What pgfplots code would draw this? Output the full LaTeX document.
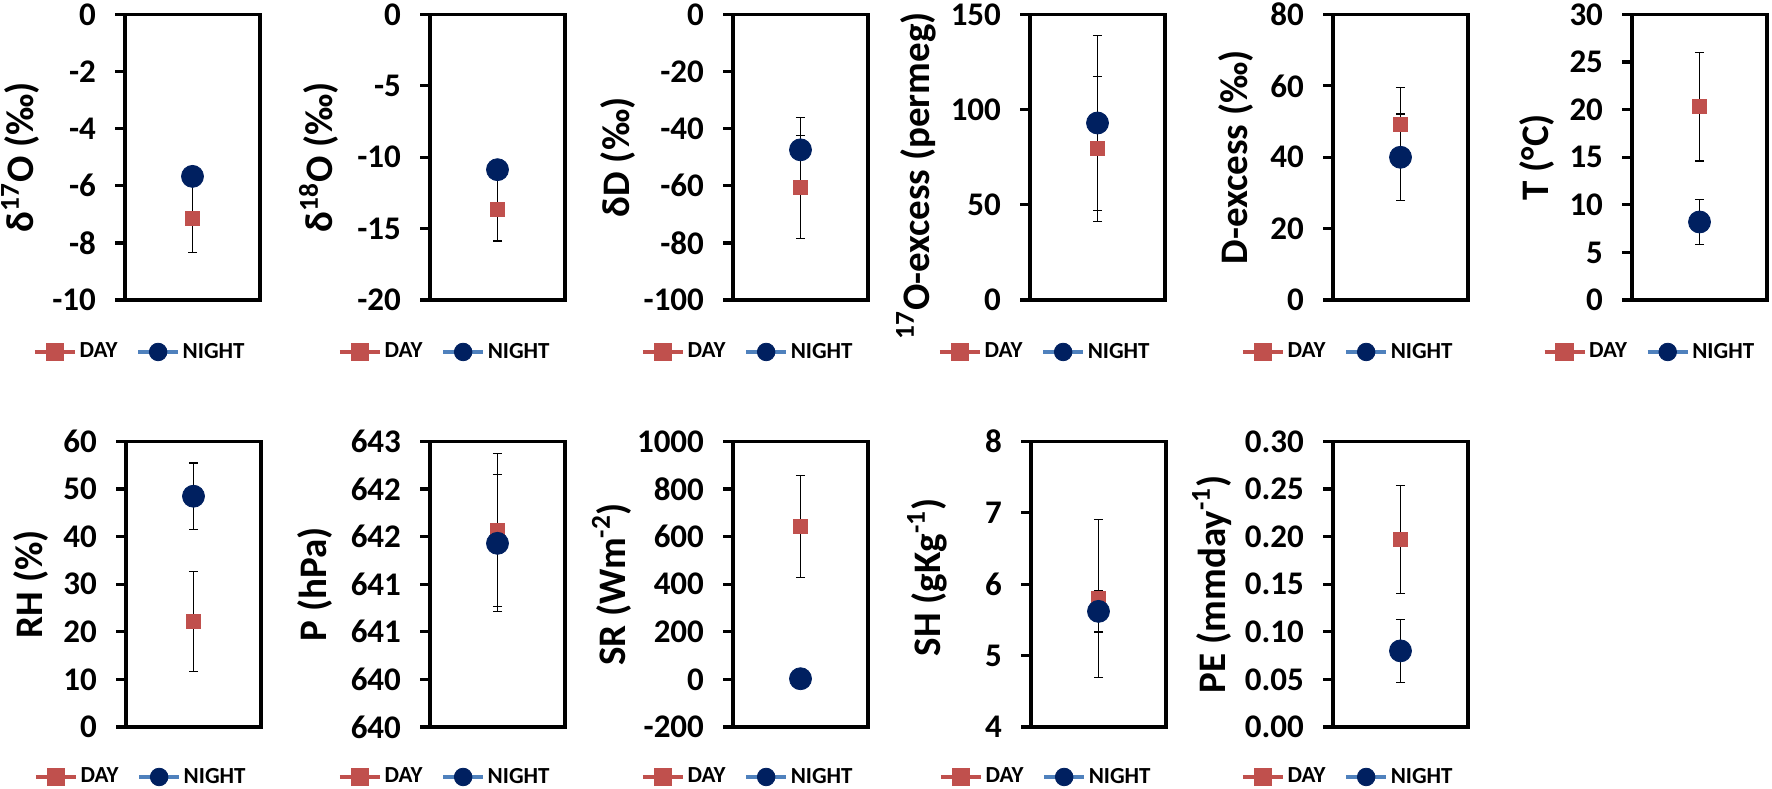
\documentclass[border=0pt]{standalone}
\usepackage{pgfplots}
\pgfplotsset{compat=1.18}
\usepackage{fontspec}
\setmainfont{Carlito}
\definecolor{dayred}{HTML}{C0504D}
\definecolor{navy}{HTML}{002060}
\definecolor{nightline}{HTML}{4F81BD}
\pgfplotsset{
  panel/.style={
    width=67.5pt, height=142.75pt, scale only axis,
    xmin=-1, xmax=1, xtick=\empty,
    ytick pos=left, tick align=outside, major tick length=5pt,
    axis line style={line width=1.6pt},
    every tick/.append style={line width=1.6pt, black},
    /pgf/number format/assume math mode=true,
    /pgf/number format/1000 sep={},
    yticklabel style={font=\fontsize{16.5}{16.5}\selectfont\bfseries, xshift=-6pt},
    ylabel style={font=\fontsize{19.5}{19.5}\selectfont\bfseries, anchor=base},
    legend columns=2,
    legend style={draw=none, fill=none, font=\fontsize{11.5}{11.5}\selectfont\bfseries,
      anchor=east, inner sep=0pt,
      nodes={inner xsep=1.5pt},
      /tikz/every even column/.append style={column sep=8pt}},
    legend image code/.code={
      \draw[mark repeat=2,mark phase=2,#1] plot coordinates {(0pt,0pt) (10pt,0pt) (20pt,0pt)};},
    clip=false,
  },
  errs/.style={error bars/.cd, y dir=both, y explicit,
    error bar style={black, line width=0.6pt},
    error mark options={black, rotate=90, mark size=2.3pt, line width=0.6pt}},
  day/.style={color=dayred, line width=1.6pt, mark=square*, mark size=3.5pt,
    mark options={fill=dayred, draw=dayred, line width=0.4pt}, errs},
  night/.style={color=nightline, line width=1.6pt, mark=*, mark size=5.5pt,
    mark options={fill=navy, draw=navy, line width=0.4pt}, errs},
  legend image post style={mark size=4.4pt},
}
\begin{document}
\begin{tikzpicture}
\path[use as bounding box] (0,0) rectangle (886pt,-394pt);
% ---------- top row ----------
\begin{axis}[panel, at={(62.5pt,-150pt)}, anchor=south west,
  ymin=-10, ymax=0, ytick={-10,-8,...,0},
  ylabel={δ\textsuperscript{17}O (‰)},
  ylabel style={at={(axis description cs:-0.675,0.5)}},
  legend style={at={(axis description cs:0.911,-0.182)}}]
\addplot[day] coordinates {(0,-7.14) +- (0,1.2)};
\addplot[night] coordinates {(0,-5.67) +- (0,0.25)};
\legend{DAY,NIGHT}
\end{axis}
\begin{axis}[panel, at={(215pt,-150pt)}, anchor=south west,
  ymin=-20, ymax=0, ytick={-20,-15,...,0},
  ylabel={δ\textsuperscript{18}O (‰)},
  ylabel style={at={(axis description cs:-0.719,0.5)}},
  legend style={at={(axis description cs:0.911,-0.182)}}]
\addplot[day] coordinates {(0,-13.64) +- (0,2.23)};
\addplot[night] coordinates {(0,-10.87) +- (0,0.5)};
\legend{DAY,NIGHT}
\end{axis}
\begin{axis}[panel, at={(366.5pt,-150pt)}, anchor=south west,
  ymin=-100, ymax=0, ytick={-100,-80,...,0},
  ylabel={δD (‰)},
  ylabel style={at={(axis description cs:-0.770,0.5)}},
  legend style={at={(axis description cs:0.911,-0.182)}}]
\addplot[day] coordinates {(0,-60.4) +- (0,18)};
\addplot[night] coordinates {(0,-47.4) +- (0,11.3)};
\legend{DAY,NIGHT}
\end{axis}
\begin{axis}[panel, at={(515pt,-150pt)}, anchor=south west,
  ymin=0, ymax=150, ytick={0,50,100,150},
  ylabel={\textsuperscript{17}O-excess (permeg)},
  ylabel style={at={(axis description cs:-0.748,0.435)}},
  legend style={at={(axis description cs:0.911,-0.182)}}]
\addplot[day] coordinates {(0,79.5) +- (0,38.1)};
\addplot[night] coordinates {(0,93.0) +- (0,46)};
\legend{DAY,NIGHT}
\end{axis}
\begin{axis}[panel, at={(666.5pt,-150pt)}, anchor=south west,
  ymin=0, ymax=80, ytick={0,20,...,80},
  ylabel={D-excess (‰)},
  ylabel style={at={(axis description cs:-0.637,0.5)}},
  legend style={at={(axis description cs:0.911,-0.182)}}]
\addplot[day] coordinates {(0,49.1) +- (0,10.5)};
\addplot[night] coordinates {(0,40.0) +- (0,12.1)};
\legend{DAY,NIGHT}
\end{axis}
\begin{axis}[panel, at={(816pt,-150pt)}, anchor=south west,
  ymin=0, ymax=30, ytick={0,5,...,30},
  ylabel={T (°C)},
  ylabel style={at={(axis description cs:-0.615,0.5)}},
  legend style={at={(axis description cs:0.93,-0.182)}}]
\addplot[day] coordinates {(0,20.3) +- (0,5.7)};
\addplot[night] coordinates {(0,8.2) +- (0,2.35)};
\legend{DAY,NIGHT}
\end{axis}
% ---------- bottom row ----------
\begin{axis}[panel, at={(63pt,-363.5pt)}, anchor=south west,
  ymin=0, ymax=60, ytick={0,10,...,60},
  ylabel={RH (\%)},
  ylabel style={at={(axis description cs:-0.615,0.5)}},
  legend style={at={(axis description cs:0.911,-0.175)}}]
\addplot[day] coordinates {(0,22.2) +- (0,10.5)};
\addplot[night] coordinates {(0,48.5) +- (0,7.0)};
\legend{DAY,NIGHT}
\end{axis}
\begin{axis}[panel, at={(215pt,-363.5pt)}, anchor=south west,
  ymin=640, ymax=643, ytick={640,640.5,641,641.5,642,642.5,643},
  yticklabels={640,640,641,641,642,642,643},
  ylabel={P (hPa)},
  ylabel style={at={(axis description cs:-0.763,0.5)}},
  legend style={at={(axis description cs:0.911,-0.175)}}]
\addplot[day] coordinates {(0,642.07) +- (0,0.80)};
\addplot[night] coordinates {(0,641.93) +- (0,0.72)};
\legend{DAY,NIGHT}
\end{axis}
\begin{axis}[panel, at={(366.5pt,-363.5pt)}, anchor=south west,
  ymin=-200, ymax=1000, ytick={-200,0,...,1000},
  ylabel={SR (Wm\textsuperscript{-2})},
  ylabel style={at={(axis description cs:-0.800,0.5)}},
  legend style={at={(axis description cs:0.911,-0.175)}}]
\addplot[day] coordinates {(0,643) +- (0,213)};
\addplot[night] coordinates {(0,3) +- (0,2)};
\legend{DAY,NIGHT}
\end{axis}
\begin{axis}[panel, at={(515.5pt,-363.5pt)}, anchor=south west,
  ymin=4, ymax=8, ytick={4,5,6,7,8},
  ylabel={SH (gKg\textsuperscript{-1})},
  ylabel style={at={(axis description cs:-0.674,0.524)}},
  legend style={at={(axis description cs:0.911,-0.175)}}]
\addplot[day] coordinates {(0,5.80) +- (0,1.11)};
\addplot[night] coordinates {(0,5.62) +- (0,0.29)};
\legend{DAY,NIGHT}
\end{axis}
\begin{axis}[panel, at={(666.5pt,-363.5pt)}, anchor=south west,
  ymin=0, ymax=0.3, ytick={0,0.05,0.1,0.15,0.2,0.25,0.3},
  yticklabels={0.00,0.05,0.10,0.15,0.20,0.25,0.30},
  ylabel={PE (mmday\textsuperscript{-1})},
  ylabel style={at={(axis description cs:-0.800,0.5)}},
  legend style={at={(axis description cs:0.911,-0.175)}}]
\addplot[day] coordinates {(0,0.197) +- (0,0.057)};
\addplot[night] coordinates {(0,0.080) +- (0,0.033)};
\legend{DAY,NIGHT}
\end{axis}
\end{tikzpicture}
\end{document}
